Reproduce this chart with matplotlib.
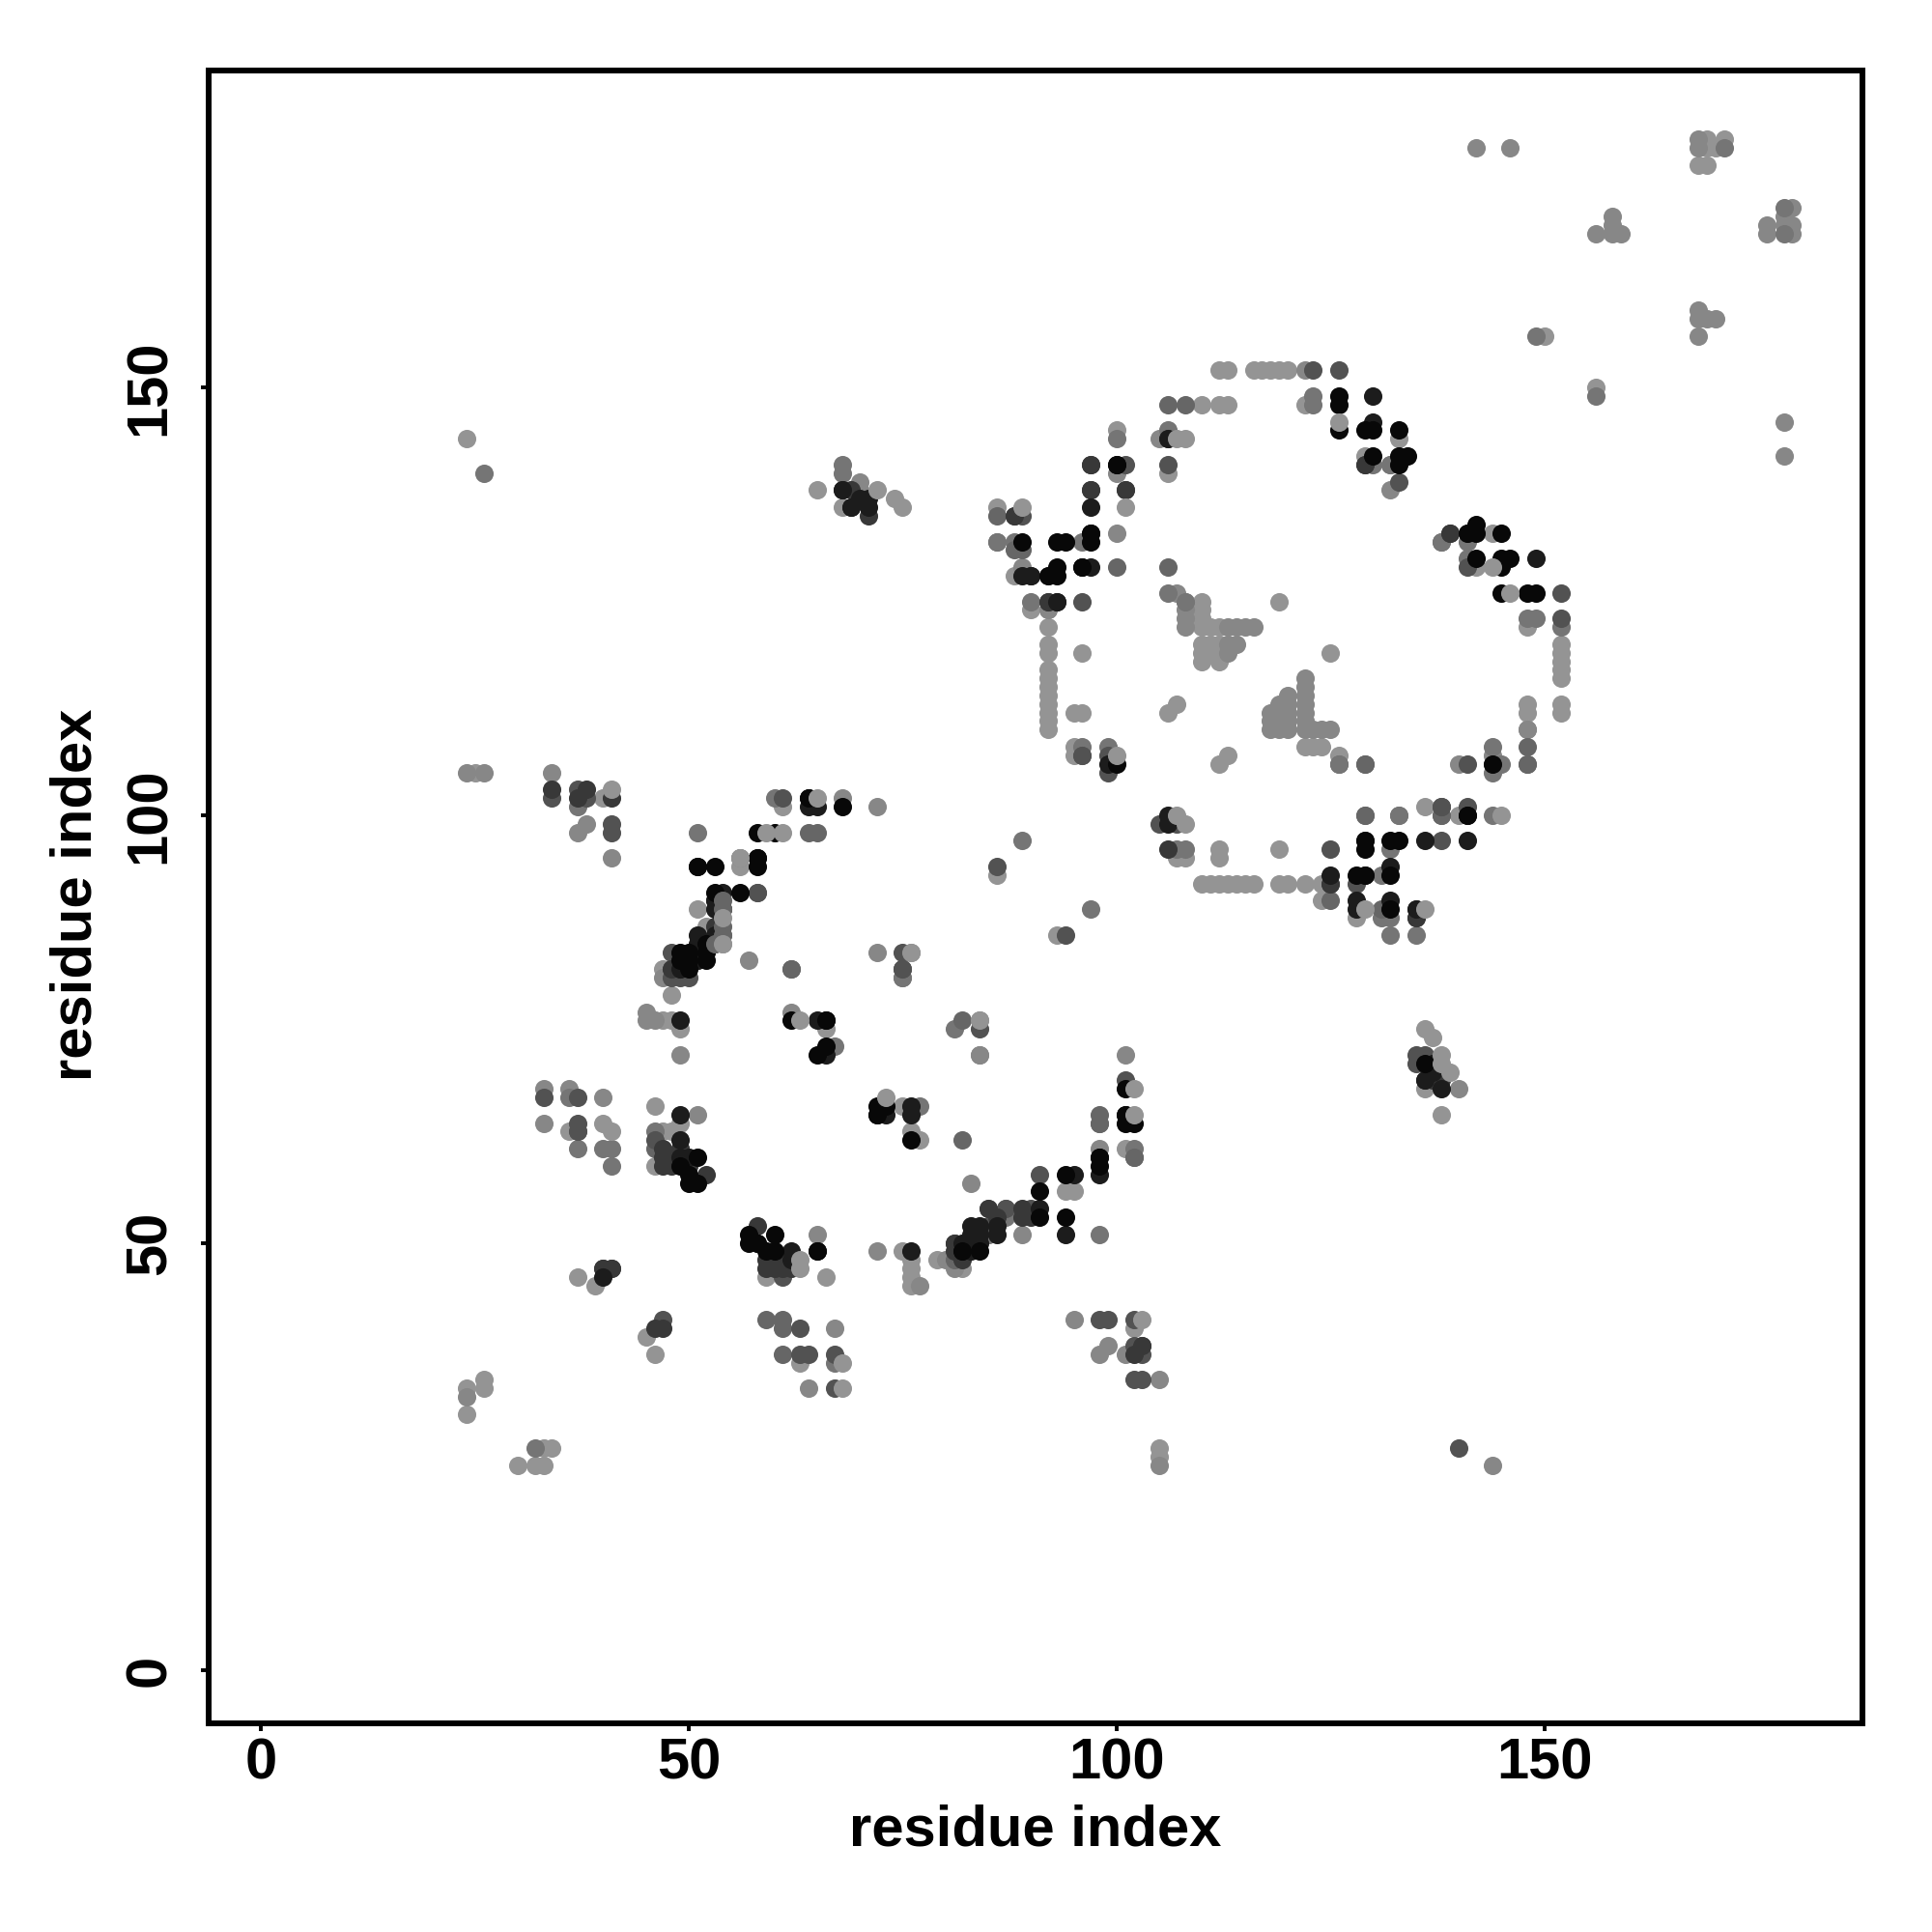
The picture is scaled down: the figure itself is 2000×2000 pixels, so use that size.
import matplotlib
matplotlib.use("Agg")
import matplotlib.pyplot as plt

plt.rcParams['font.family'] = ['Liberation Sans', 'DejaVu Sans']

x_ticks = [0, 50, 100, 150]
y_ticks = [0, 50, 100, 150]
x_label = "residue index"
y_label = "residue index"

shade_pale = 0.58
shade_light = 0.53
shade_mid = 0.46
shade_medium = 0.40
shade_dim = 0.32
shade_dark = 0.22
shade_deep = 0.11
shade_black = 0.03

contacts_pale = [
    (36,63),(40,64),(46,66),(49,64),(47,63),(48,63),(46,59),(47,76),(48,76),(49,75),(66,75),
    (37,46),(39,45),(46,37),(45,39),(24,33),(26,34),(26,33),(24,30),(33,26),(34,26),(33,24),(32,24),(30,24),
    (59,46),(66,46),(75,49),(76,48),(76,47),(76,46),(76,45),(63,36),(25,105),(40,102),(61,101),
    (54,85),(47,82),(48,79),(52,87),(51,89),(76,84),(56,95),(56,94),(82,47),(79,48),(84,72),(84,76),
    (94,56),(95,56),(102,40),(105,26),(105,25),(110,148),(112,148),(113,148),(112,152),(113,152),
    (116,152),(117,152),(118,152),(119,152),(120,152),(122,148),(100,145),(129,142),(133,144),(106,140),
    (90,124),(92,124),(92,122),(92,120),(92,119),(96,119),(92,117),(92,116),(92,115),(92,114),
    (92,113),(92,112),(92,111),(92,110),(95,112),(96,112),(95,108),(95,107),(88,128),(86,136),
    (119,125),(125,119),(110,125),(110,124),(110,123),(110,122),(111,122),(112,122),(110,120),
    (110,119),(110,118),(111,120),(111,119),(112,120),(112,119),(112,118),(106,112),(107,113),
    (112,106),(113,107),(122,108),(123,108),(124,108),(126,107),(107,95),(108,95),(112,96),(112,95),
    (119,96),(110,92),(111,92),(112,92),(113,92),(114,92),(115,92),(116,92),(119,92),(120,92),
    (122,92),(124,92),(124,90),(128,88),(86,93),(93,86),(136,101),(140,100),(144,133),(142,129),
    (148,122),(152,120),(152,119),(152,118),(152,117),(152,116),(148,113),(148,112),(148,110),
    (152,113),(152,112),(169,179),(169,178),(170,178),(171,179),(168,176),(169,176),(150,156),
    (156,150),(24,144),(65,138),(68,136),(74,137),(75,136),(136,75),(137,74),(136,68),(138,65),
    (75,66),(76,63),(77,62),(101,61),
]
contacts_light = [
    (33,68),(33,64),(36,68),(40,67),(51,65),(49,72),(45,77),(45,76),(46,76),(62,77),(65,51),(67,40),
    (24,32),(24,105),(26,105),(34,105),(38,99),(37,98),(41,95),(68,102),(72,101),(53,87),(56,95),
    (57,83),(72,84),(75,81),(72,49),(77,45),(64,33),(84,72),(101,72),(98,61),(83,57),(80,48),(81,47),
    (85,51),(89,51),(85,54),(95,41),(99,38),(98,37),(101,37),(105,34),(105,24),(144,24),(122,152),
    (105,144),(100,140),(89,129),(86,132),(92,124),(100,133),(132,138),(132,141),(107,126),(108,125),
    (108,124),(108,123),(108,122),(113,122),(114,122),(115,122),(116,122),(113,120),(113,119),(114,120),
    (122,116),(122,115),(122,114),(122,113),(122,112),(122,111),(122,110),(120,114),(119,113),(120,113),
    (118,112),(119,112),(120,112),(118,110),(119,111),(120,111),(119,110),(120,110),(118,111),(123,110),
    (124,110),(125,110),(140,106),(144,107),(148,110),(142,178),(146,178),(168,179),(168,178),(158,170),
    (158,169),(156,168),(158,168),(159,168),(179,171),(176,169),(176,168),(178,170),(178,169),(179,169),
    (179,168),(168,159),(168,158),(169,158),(170,158),(168,156),(178,146),(178,142),(133,100),(140,68),
    (70,139),(70,138),(47,81),
]
contacts_mid = [
    (36,67),(37,61),(40,61),(41,59),(41,61),(46,63),(67,73),(62,82),(75,82),(75,81),(81,75),(51,98),
    (60,102),(37,101),(58,91),(87,53),(87,54),(85,51),(98,64),(102,60),(98,51),(67,36),(32,26),
    (26,140),(108,125),(106,126),(123,148),(123,149),(100,144),(106,145),(130,141),(132,141),(138,132),
    (141,132),(141,130),(96,132),(86,132),(88,132),(90,125),(92,128),(96,108),(99,108),(126,106),(129,106),
    (138,132),(145,106),(144,108),(144,105),(148,106),(133,100),(129,100),(138,100),(144,100),(132,96),(107,96),
    (108,96),(131,93),(131,88),(132,88),(132,86),(135,86),(97,89),(89,97),(178,171),(171,178),(149,156),
    (156,149),(178,168),(68,141),(68,140),(126,106),(148,123),(149,123),(152,122),(144,106),(77,66),(102,61),
]
contacts_medium = [
    (62,82),(75,82),(82,76),(98,65),(98,64),(102,60),(82,62),(59,41),(61,41),(61,40),(61,37),(37,63),
    (46,61),(54,89),(64,98),(65,98),(54,86),(53,85),(81,48),(106,148),(108,148),(86,135),(88,131),(89,131),
    (106,129),(100,129),(148,108),(148,106),(129,106),(96,107),(129,100),(131,89),(125,90),(138,100),
]
contacts_dim = [
    (33,67),(37,67),(37,64),(37,63),(34,102),(37,103),(38,102),(61,102),(41,98),(41,99),(48,84),(48,82),
    (48,81),(49,81),(50,81),(58,91),(49,61),(46,62),(101,69),(61,46),(63,40),(47,41),(40,47),(41,47),
    (67,33),(63,37),(64,37),(67,37),(99,41),(98,41),(102,41),(103,38),(102,34),(103,34),(102,38),(103,37),
    (84,75),(91,58),(90,54),(87,54),(85,52),(81,50),(140,26),(123,152),(126,152),(101,141),(106,141),(97,141),
    (133,139),(129,141),(89,135),(88,135),(101,138),(97,138),(92,125),(96,125),(106,144),(141,133),
    (141,129),(139,133),(152,126),(152,123),(141,106),(96,107),(99,107),(99,105),(129,97),(125,96),(125,92),
    (128,92),(138,101),(141,101),(135,89),(135,88),(94,86),(86,94),(105,99),(107,99),(138,101),(135,72),(136,72),
    (135,71),(75,84),(75,82),(138,97),
]
contacts_dark = [
    (49,61),(47,61),(47,60),(48,60),(47,59),(48,59),(50,59),(52,58),(58,52),(59,48),(60,48),(59,47),(60,47),
    (61,47),(62,47),(40,47),(41,47),(47,40),(46,40),(34,103),(38,103),(37,102),(41,102),(53,90),(54,89),(53,87),
    (50,83),(51,83),(49,82),(48,82),(81,49),(81,50),(82,48),(83,50),(85,54),(86,53),(89,53),(90,53),(89,54),
    (102,37),(103,38),(97,141),(97,138),(101,138),(88,135),(93,125),(92,125),(90,128),(129,141),(139,133),
    (125,92),(129,93),(135,88),(136,69),(137,69),(138,69),(69,136),(68,138),(69,138),(71,135),(106,96),
]
contacts_deep = [
    (49,65),(49,62),(49,60),(50,60),(58,50),(62,49),(62,48),(65,49),(49,76),(65,76),(66,72),(66,76),
    (40,46),(64,102),(64,101),(65,101),(53,90),(54,91),(53,89),(51,86),(53,86),(51,85),(51,83),(49,82),
    (76,49),(72,65),(76,65),(76,66),(58,95),(51,94),(82,50),(84,52),(83,52),(83,51),(84,51),(84,50),
    (86,52),(86,51),(82,49),(83,49),(91,54),(95,58),(101,65),(98,58),(98,60),(130,149),(130,146),(94,51),
    (97,136),(97,133),(100,141),(89,128),(90,128),(93,125),(106,144),(96,129),(97,129),(149,130),(135,89),
    (125,93),(128,90),(128,89),(132,94),(136,97),(141,97),(99,106),(141,100),(68,138),(69,136),(70,137),
    (71,137),(71,136),(137,70),(137,71),(138,68),(136,69),(132,90),(106,100),(106,99),(73,65),
]
contacts_black = [
    (50,58),(50,57),(51,57),(51,60),(49,59),(57,51),(57,50),(60,51),(58,50),(59,49),(60,49),(65,49),
    (62,76),(66,76),(65,72),(66,73),(72,66),(72,65),(73,66),(51,94),(53,94),(58,94),(58,95),(58,98),(60,98),
    (53,91),(56,91),(49,84),(50,84),(52,84),(49,83),(50,83),(52,83),(50,82),(52,85),(68,101),(64,102),
    (94,58),(91,53),(94,53),(91,56),(84,49),(82,49),(101,68),(101,64),(102,64),(98,59),(98,60),(101,65),
    (126,149),(126,148),(126,145),(129,145),(130,145),(130,142),(133,145),(133,142),(134,142),(133,141),
    (93,132),(94,132),(97,132),(89,132),(93,129),(93,128),(96,129),(97,133),(100,141),(92,128),
    (142,134),(141,133),(142,133),(145,133),(142,130),(145,130),(146,130),(145,129),(145,126),(148,126),(149,126),
    (100,106),(144,106),(141,100),(129,97),(129,96),(132,97),(128,93),(129,93),(132,93),(132,89),(133,97),
    (136,71),(76,62),
]
contacts_front_medium = [(54,89),(54,87),(54,86),(53,85),(54,90)]
contacts_front_pale = [
    (41,63),(63,76),(102,68),(102,65),(65,102),(41,103),(89,136),(73,67),(107,100),(108,99),(129,89),(136,89),
    (145,100),(146,126),(100,107),(138,72),(138,71),(139,70),(72,138),(63,48),(63,47),(103,41),(68,36),(68,33),
    (107,144),(108,144),(101,136),(59,98),(61,98),(56,95),(144,129),(84,76),(126,146),(54,88),(54,85),(76,84),
]

bands = [
    (contacts_pale, shade_pale),
    (contacts_light, shade_light),
    (contacts_mid, shade_mid),
    (contacts_medium, shade_medium),
    (contacts_dim, shade_dim),
    (contacts_dark, shade_dark),
    (contacts_deep, shade_deep),
    (contacts_black, shade_black),
    (contacts_front_medium, shade_medium),
    (contacts_front_pale, shade_pale),
]

fig = plt.figure(figsize=(10, 10), dpi=200)
ax = fig.add_axes([216/2000, 1-1784/2000, (1928-216)/2000, (1784-72.7)/2000])

for pts, shade in bands:
    xs, ys = zip(*pts)
    ax.scatter(xs, ys, s=47, color=str(shade), linewidths=0, zorder=3)

ax.set_xlim(-6.13, 187.2)
ax.set_ylim(-6.18, 187.1)
ax.set_xticks(x_ticks)
ax.set_yticks(y_ticks)
ax.tick_params(axis='both', direction='out', length=2.9, width=1.4, labelsize=21.5)
ax.tick_params(axis='x', pad=2.5)
ax.tick_params(axis='y', pad=8.9)
for lbl in ax.get_xticklabels() + ax.get_yticklabels():
    lbl.set_fontweight('bold')
for lbl in ax.get_yticklabels():
    lbl.set_rotation(90)
    lbl.set_va('center')
for sp in ax.spines.values():
    sp.set_linewidth(2.16)

ax.set_xlabel(x_label, fontsize=21.5, fontweight='bold')
ax.set_ylabel(y_label, fontsize=21.5, fontweight='bold')
ax.xaxis.set_label_coords(0.5, (1784-1895)/(1784-72.7), transform=ax.transAxes)
ax.xaxis.label.set_va('center')
ax.yaxis.set_label_coords((79-216)/(1928-216), 1-(926-72.7)/(1784-72.7), transform=ax.transAxes)
ax.yaxis.label.set_va('center')

fig.savefig("out.png", dpi=200, facecolor="white")
